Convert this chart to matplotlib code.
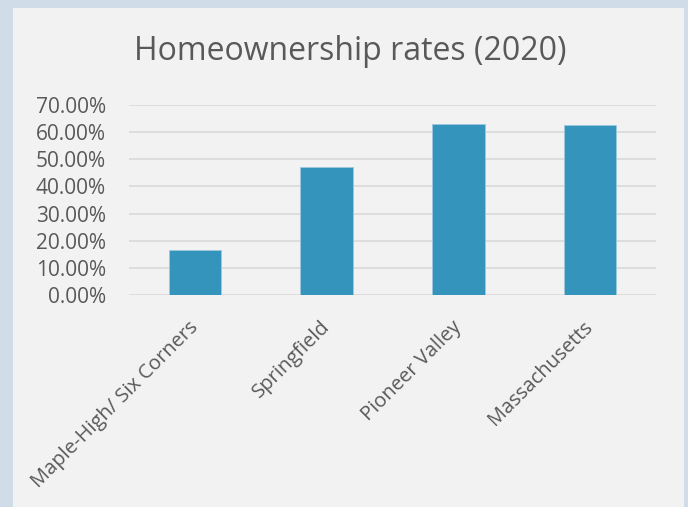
import matplotlib.pyplot as plt
from matplotlib.patches import Rectangle
from matplotlib.ticker import PercentFormatter

categories = ["Maple-High/ Six Corners", "Springfield", "Pioneer Valley", "Massachusetts"]
rates = [16.6, 47.3, 63.0, 62.5]
yticks = [0, 10, 20, 30, 40, 50, 60, 70]

text_color = "#595959"
plt.rcParams["font.family"] = ["Open Sans", "DejaVu Sans"]

fig = plt.figure(figsize=(6.88, 5.07), dpi=100)
fig.patch.set_facecolor("#d0dce7")
fig.patches.append(Rectangle((13 / 688, 0), 671 / 688, 1 - 8 / 507,
                             transform=fig.transFigure, facecolor="#f2f2f2",
                             edgecolor="none", zorder=-1))

ax = fig.add_axes([129 / 688, 1 - 295 / 507, 527 / 688, 190 / 507])
ax.set_zorder(2)
ax.set_facecolor("none")
x = range(len(categories))
ax.bar(x, rates, width=0.4, color="#3594bc", edgecolor="#9cc8dc", linewidth=0.6, zorder=3)

ax.set_xlim(-0.5, len(categories) - 0.5)
ax.set_ylim(0, 70)
ax.set_yticks(yticks)
ax.yaxis.set_major_formatter(PercentFormatter(decimals=2))
ax.grid(axis="y", color="#d9d9d9", linewidth=1.2, zorder=0)
for s in ax.spines.values():
    s.set_visible(False)
ax.tick_params(axis="both", length=0, colors=text_color)
ax.tick_params(axis="y", pad=16.5, labelsize=15)
ax.set_xticks(list(x))
ax.set_xticklabels(categories, rotation=45, ha="right", va="center",
                   rotation_mode="anchor", fontsize=14.5)
ax.tick_params(axis="x", pad=21)

fig.text(350 / 688, 1 - 52 / 507, "Homeownership rates (2020)", ha="center", va="center",
         fontsize=23, color=text_color)

fig.savefig("out.png", dpi=100, facecolor=fig.get_facecolor())
